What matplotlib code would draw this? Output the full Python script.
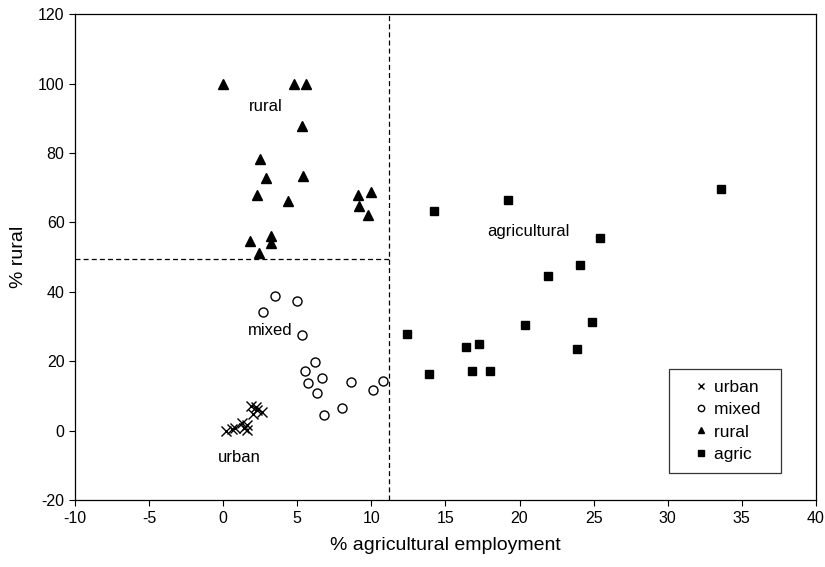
import matplotlib.pyplot as plt

plt.rcParams['font.family'] = ['Liberation Sans', 'DejaVu Sans']
plt.rcParams['axes.unicode_minus'] = False

# % agricultural employment vs % rural, by area type
urban_x = [0.2, 0.6, 0.8, 1.3, 1.4, 1.6, 1.6, 1.9, 2.2, 2.0, 2.6, 2.3]
urban_y = [-0.1, 0.5, 0.8, 2.1, 0.9, 1.5, 0.2, 7.2, 6.9, 4.8, 5.5, 5.9]

mixed_x = [3.5, 5.0, 2.7, 5.3, 6.2, 5.5, 6.7, 5.7, 8.6, 10.8, 10.1, 6.3, 8.0, 6.8]
mixed_y = [38.9, 37.3, 34.1, 27.7, 19.7, 17.2, 15.2, 13.6, 14.1, 14.3, 11.8, 10.8, 6.5, 4.6]

rural_x = [0.0, 4.8, 5.6, 5.3, 2.5, 2.9, 5.4, 2.3, 4.4, 9.1, 10.0, 9.2, 9.8,
           1.8, 3.2, 3.2, 2.4]
rural_y = [100, 100, 100, 87.8, 78.2, 72.9, 73.4, 67.8, 66.3, 67.8, 68.8, 64.7,
           62.1, 54.6, 56.2, 54.2, 51.1]

agric_x = [33.6, 19.2, 14.2, 25.4, 24.1, 21.9, 24.9, 20.4, 12.4, 17.3, 16.4,
           23.9, 13.9, 16.8, 18.0]
agric_y = [69.5, 66.5, 63.2, 55.5, 47.6, 44.6, 31.4, 30.5, 27.8, 24.9, 24.1,
           23.6, 16.3, 17.1, 17.1]

x_cut = 11.2
y_cut = 49.6

fig = plt.figure(figsize=(8.25, 5.67), dpi=100)
ax = fig.add_axes([0.0909, 0.118, 0.898, 0.857])

ax.plot(urban_x, urban_y, 'x', color='black', ms=7, mew=1.0, label='urban  ')
ax.plot(mixed_x, mixed_y, 'o', mfc='white', mec='black', ms=6.5, mew=1.0, label='mixed  ')
ax.plot(rural_x, rural_y, '^', color='black', ms=6.5, label='rural  ')
ax.plot(agric_x, agric_y, 's', color='black', ms=6, label='agric  ')

ax.plot([-10, x_cut], [y_cut, y_cut], '--', color='black', lw=0.9, dashes=(4, 2.5))
ax.axvline(x_cut, ls='--', color='black', lw=0.9, dashes=(4, 2.5))

ax.text(2.9, 93.4, 'rural', fontsize=12, ha='center', va='center')
ax.text(3.2, 28.9, 'mixed', fontsize=12, ha='center', va='center')
ax.text(1.1, -7.6, 'urban', fontsize=12, ha='center', va='center')
ax.text(20.6, 57.5, 'agricultural', fontsize=12, ha='center', va='center')

ax.set_xlim(-10, 40)
ax.set_ylim(-20, 120)
ax.set_xticks(range(-10, 41, 5))
ax.set_yticks(range(-20, 121, 20))
ax.tick_params(direction='out', length=4, labelsize=11.5, top=False, right=False)
for s in ax.spines.values():
    s.set_linewidth(0.9)

ax.set_xlabel('% agricultural employment', fontsize=14, labelpad=8)
ax.set_ylabel('% rural', fontsize=14, labelpad=8)

leg = ax.legend(loc='lower right', bbox_to_anchor=(0.953, 0.056), borderaxespad=0,
                fontsize=12.5, markerscale=0.7, handlelength=2.4, handletextpad=-0.5,
                fancybox=False, edgecolor='black', borderpad=0.65, labelspacing=0.4)
leg.get_frame().set_linewidth(0.9)

fig.savefig('out.png', dpi=100)
